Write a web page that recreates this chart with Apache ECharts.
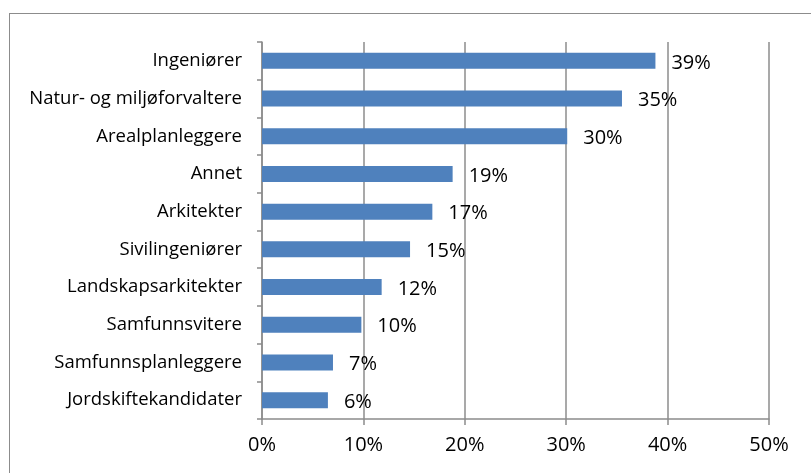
<!DOCTYPE html>
<html>
<head>
<meta charset="utf-8">
<script src="https://cdn.jsdelivr.net/npm/echarts@6/dist/echarts.min.js"></script>
<style>
  html, body { margin: 0; padding: 0; background: #fff; }
  #frame {
    position: absolute; left: 9px; top: 13px; width: 900px; height: 600px;
    border-left: 1px solid #8c8c8c; border-top: 1px solid #8c8c8c;
  }
  #chart { position: absolute; left: 0; top: 0; width: 811px; height: 473px; }
</style>
</head>
<body>
<div id="frame"></div>
<div id="chart"></div>
<script>
// kategorier (fra topp til bunn)
var categories = [
  "Ingeniører",
  "Natur- og miljøforvaltere",
  "Arealplanleggere",
  "Annet",
  "Arkitekter",
  "Sivilingeniører",
  "Landskapsarkitekter",
  "Samfunnsvitere",
  "Samfunnsplanleggere",
  "Jordskiftekandidater"
];
// andel i prosent
var values = [38.8, 35.5, 30.1, 18.8, 16.8, 14.6, 11.8, 9.8, 7.0, 6.5];
var valueLabels = ["39%", "35%", "30%", "19%", "17%", "15%", "12%", "10%", "7%", "6%"];

var chart = echarts.init(document.getElementById("chart"));
var font = "'Open Sans', sans-serif";
var option = {
  animation: false,
  grid: { left: 262, right: 42, top: 42, bottom: 54 },
  xAxis: {
    type: "value",
    min: 0,
    max: 50,
    interval: 10,
    axisLine: { show: true, lineStyle: { color: "#8c8c8c", width: 1.5 } },
    axisTick: { show: true, length: 6, lineStyle: { color: "#8c8c8c", width: 1.5 } },
    splitLine: { show: true, lineStyle: { color: "#8c8c8c", width: 1.5 } },
    axisLabel: {
      formatter: "{value}%",
      color: "#000",
      fontSize: 20,
      fontFamily: font,
      margin: 16
    }
  },
  yAxis: {
    type: "category",
    inverse: true,
    data: categories,
    axisLine: { show: true, lineStyle: { color: "#8c8c8c", width: 1.5 } },
    axisTick: { show: true, length: 5, lineStyle: { color: "#8c8c8c", width: 1.5 } },
    axisLabel: { color: "#000", fontSize: 18.5, fontFamily: font, margin: 20 }
  },
  series: [
    {
      type: "bar",
      data: values,
      barWidth: 16,
      itemStyle: { color: "#4f81bd" },
      label: {
        show: true,
        position: "right",
        distance: 16,
        offset: [0, 2],
        color: "#000",
        fontSize: 20,
        fontFamily: font,
        formatter: function (p) { return valueLabels[p.dataIndex]; }
      }
    }
  ]
};
chart.setOption(option);
</script>
</body>
</html>
